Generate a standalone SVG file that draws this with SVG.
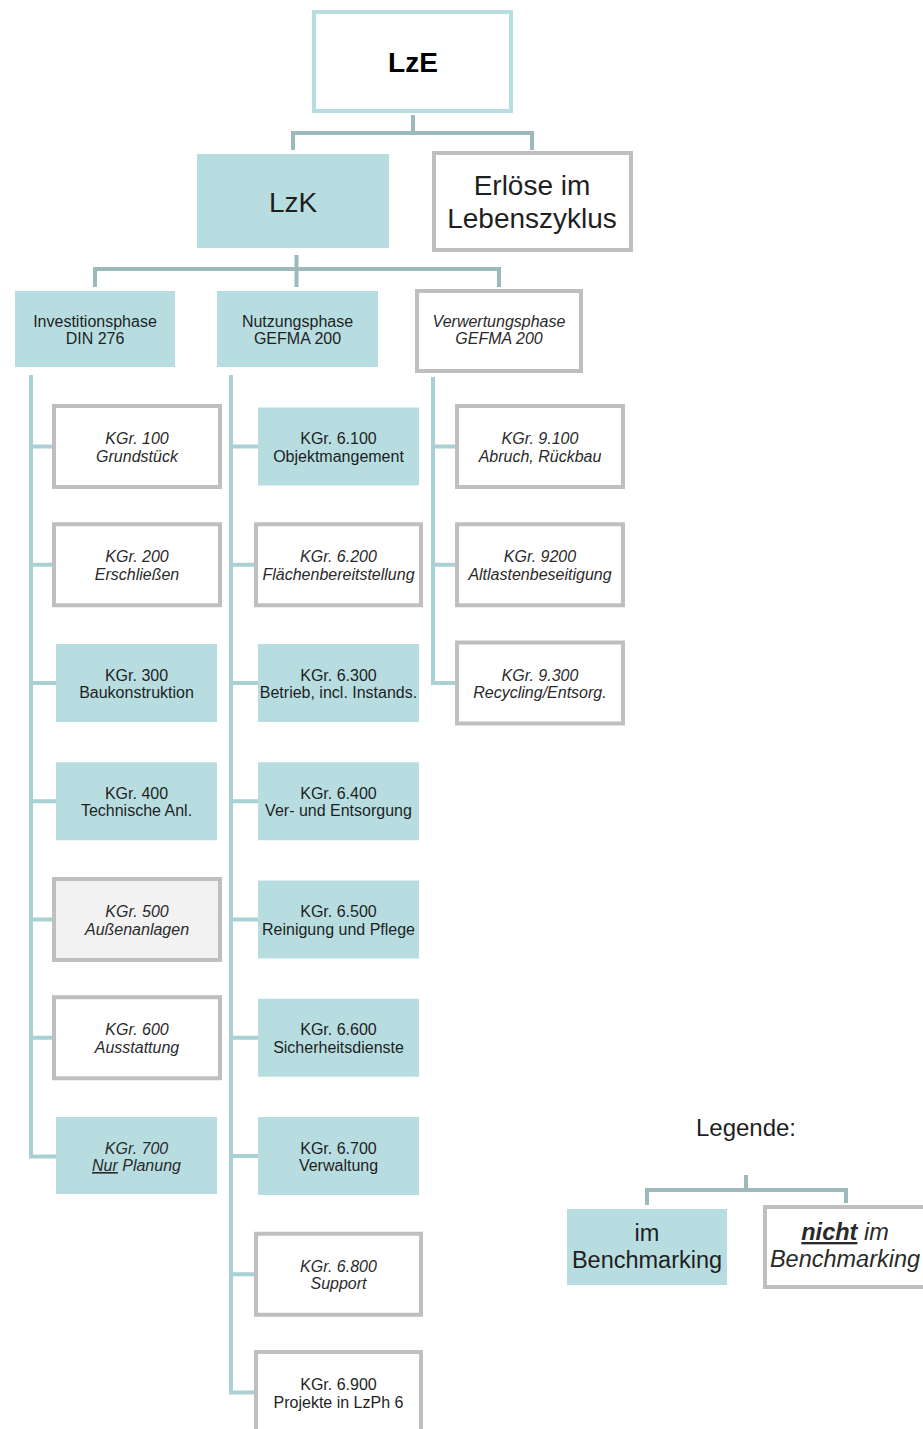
<svg xmlns="http://www.w3.org/2000/svg" width="923" height="1429" viewBox="0 0 923 1429">
<style>
text{font-family:"Liberation Sans",Arial,sans-serif;fill:#1f1f1f;text-anchor:middle}
.s{font-size:16px}
.i{font-style:italic;fill:#2a2a2a}
.fill{fill:#b7dde1}
.bord{fill:#ffffff;stroke:#bfbfbf;stroke-width:4}
.gray{fill:#f2f2f2;stroke:#bfbfbf;stroke-width:4}
.c1{fill:none;stroke:#9cb9bc;stroke-width:4}
.c2{fill:none;stroke:#a9d0d3;stroke-width:4}
</style>
<rect width="923" height="1429" fill="#ffffff"/>
<g id="connectors">
<path class="c1" d="M413 115V133M293 150V133H532V150"/>
<path class="c1" d="M296.5 255V287M95 287V269H499V287"/>
<path class="c2" d="M31 375V1156.5H56M31 446.5H52M31 564.75H52M31 683H56M31 801.25H56M31 919.5H52M31 1037.75H52"/>
<path class="c2" d="M231 375V1392.5H254M231 446.5H258M231 564.75H254M231 683H258M231 801.25H258M231 919.5H258M231 1037.75H258M231 1156H258M231 1274.25H254"/>
<path class="c2" d="M433 377V683H455M433 446.5H455M433 564.75H455"/>
<path class="c1" d="M746 1175V1190M647 1205V1190H846V1203"/>
</g>
<g id="lze"><rect x="314" y="12" width="197" height="99" fill="#ffffff" stroke="#b7dde1" stroke-width="4"/><text x="413" y="72" font-size="28" font-weight="bold" style="fill:#000">LzE</text></g>
<g id="lzk"><rect class="fill" x="197" y="154" width="192" height="94"/><text x="293" y="212" font-size="28">LzK</text></g>
<g id="erloese"><rect class="bord" x="434" y="153" width="197" height="97"/><text x="532" y="195" font-size="28">Erlöse im</text><text x="532" y="228" font-size="28">Lebenszyklus</text></g>
<g id="investition"><rect class="fill" x="15" y="291" width="160" height="76"/><text class="s" x="95" y="326.5">Investitionsphase</text><text class="s" x="95" y="344">DIN 276</text></g>
<g id="nutzung"><rect class="fill" x="217" y="291" width="161" height="76"/><text class="s" x="297.5" y="326.5">Nutzungsphase</text><text class="s" x="297.5" y="344">GEFMA 200</text></g>
<g id="verwertung"><rect class="bord" x="417" y="291" width="164" height="80"/><text class="s i" x="499" y="326.5">Verwertungsphase</text><text class="s i" x="499" y="344">GEFMA 200</text></g>
<g id="kgr100"><rect class="bord" x="54" y="406" width="166" height="81"/><text class="s i" x="137" y="444">KGr. 100</text><text class="s i" x="137" y="461.5">Grundstück</text></g>
<g id="kgr200"><rect class="bord" x="54" y="524.25" width="166" height="81"/><text class="s i" x="137" y="562.25">KGr. 200</text><text class="s i" x="137" y="579.75">Erschließen</text></g>
<g id="kgr300"><rect class="fill" x="56" y="644" width="161" height="78"/><text class="s" x="136.5" y="680.5">KGr. 300</text><text class="s" x="136.5" y="698">Baukonstruktion</text></g>
<g id="kgr400"><rect class="fill" x="56" y="762.25" width="161" height="78"/><text class="s" x="136.5" y="798.75">KGr. 400</text><text class="s" x="136.5" y="816.25">Technische Anl.</text></g>
<g id="kgr500"><rect class="gray" x="54" y="879" width="166" height="81"/><text class="s i" x="137" y="917">KGr. 500</text><text class="s i" x="137" y="934.5">Außenanlagen</text></g>
<g id="kgr600"><rect class="bord" x="54" y="997.25" width="166" height="81"/><text class="s i" x="137" y="1035.25">KGr. 600</text><text class="s i" x="137" y="1052.75">Ausstattung</text></g>
<g id="kgr700"><rect class="fill" x="56" y="1117" width="161" height="77"/><text class="s i" x="136.5" y="1153.5">KGr. 700</text><text class="s i" x="136.5" y="1171"><tspan text-decoration="underline">Nur</tspan> Planung</text></g>
<g id="kgr6100"><rect class="fill" x="258" y="407.5" width="161" height="78"/><text class="s" x="338.5" y="444">KGr. 6.100</text><text class="s" x="338.5" y="461.5">Objektmangement</text></g>
<g id="kgr6200"><rect class="bord" x="256" y="524.25" width="165" height="81"/><text class="s i" x="338.5" y="562.25">KGr. 6.200</text><text class="s i" x="338.5" y="579.75">Flächenbereitstellung</text></g>
<g id="kgr6300"><rect class="fill" x="258" y="644" width="161" height="78"/><text class="s" x="338.5" y="680.5">KGr. 6.300</text><text class="s" x="338.5" y="698">Betrieb, incl. Instands.</text></g>
<g id="kgr6400"><rect class="fill" x="258" y="762.25" width="161" height="78"/><text class="s" x="338.5" y="798.75">KGr. 6.400</text><text class="s" x="338.5" y="816.25">Ver- und Entsorgung</text></g>
<g id="kgr6500"><rect class="fill" x="258" y="880.5" width="161" height="78"/><text class="s" x="338.5" y="917">KGr. 6.500</text><text class="s" x="338.5" y="934.5">Reinigung und Pflege</text></g>
<g id="kgr6600"><rect class="fill" x="258" y="998.75" width="161" height="78"/><text class="s" x="338.5" y="1035.25">KGr. 6.600</text><text class="s" x="338.5" y="1052.75">Sicherheitsdienste</text></g>
<g id="kgr6700"><rect class="fill" x="258" y="1117" width="161" height="78"/><text class="s" x="338.5" y="1153.5">KGr. 6.700</text><text class="s" x="338.5" y="1171">Verwaltung</text></g>
<g id="kgr6800"><rect class="bord" x="256" y="1233.75" width="165" height="81"/><text class="s i" x="338.5" y="1271.75">KGr. 6.800</text><text class="s i" x="338.5" y="1289.25">Support</text></g>
<g id="kgr6900"><rect class="bord" x="256" y="1352" width="165" height="81"/><text class="s" x="338.5" y="1390">KGr. 6.900</text><text class="s" x="338.5" y="1407.5">Projekte in LzPh 6</text></g>
<g id="kgr9100"><rect class="bord" x="457" y="406" width="166" height="81"/><text class="s i" x="540" y="444">KGr. 9.100</text><text class="s i" x="540" y="461.5">Abruch, Rückbau</text></g>
<g id="kgr9200"><rect class="bord" x="457" y="524.25" width="166" height="81"/><text class="s i" x="540" y="562.25">KGr. 9200</text><text class="s i" x="540" y="579.75">Altlastenbeseitigung</text></g>
<g id="kgr9300"><rect class="bord" x="457" y="642.5" width="166" height="81"/><text class="s i" x="540" y="680.5">KGr. 9.300</text><text class="s i" x="540" y="698">Recycling/Entsorg.</text></g>
<g id="legende"><text x="746" y="1136" font-size="24">Legende:</text></g>
<g id="im-bench"><rect class="fill" x="567" y="1209" width="160" height="76"/><text x="647" y="1241" font-size="23.5">im</text><text x="647" y="1268" font-size="23.5">Benchmarking</text></g>
<g id="nicht-bench"><rect class="bord" x="765" y="1207" width="160" height="80"/><text x="845" y="1240" font-size="23.5" class="i"><tspan font-weight="bold" text-decoration="underline">nicht</tspan> im</text><text x="845" y="1267" font-size="23.5" class="i">Benchmarking</text></g>
</svg>
